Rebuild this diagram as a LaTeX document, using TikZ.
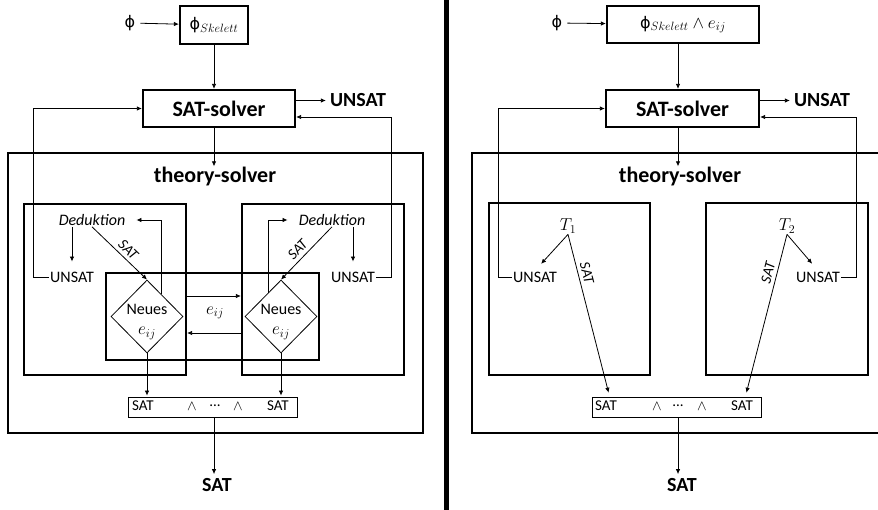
\documentclass[tikz,border=0pt]{standalone}
\usepackage{fontspec}
\setmainfont{Carlito}
\newfontfamily\phifont{DejaVu Sans}
\usepackage{tikz}
\usetikzlibrary{calc}
\usetikzlibrary{arrows.meta}
\usetikzlibrary{shapes.geometric}
\tikzset{
	solverbox/.style={draw, line width=2.2pt, inner sep=0pt},
	thinframe/.style={draw, line width=0.8pt, inner sep=0pt},
	flow/.style={line width=0.8pt, -{Latex[length=5pt,width=4.5pt]}},
	bigbold/.style={font=\fontsize{22}{26}\selectfont\bfseries, inner sep=1pt},
	result/.style={font=\fontsize{20}{24}\selectfont\bfseries, inner sep=4pt},
	normaltext/.style={font=\fontsize{16}{19}\selectfont, inner sep=1pt},
	mathtext/.style={font=\fontsize{18}{21}\selectfont, inner sep=1pt},
	deduce/.style={font=\fontsize{16}{19}\selectfont\itshape, inner sep=1pt},
	boxtext/.style={font=\fontsize{15}{18}\selectfont, inner sep=0pt},
	linelabel/.style={font=\fontsize{15}{17}\selectfont\itshape, inner sep=3.5pt},
	decision/.style={diamond, draw, line width=0.8pt, minimum width=72pt, minimum height=73pt, inner sep=0pt},
}
\begin{document}
\begin{tikzpicture}[x=1pt, y=-1pt]
	\useasboundingbox (0,0) rectangle (878,510);
	\clip (0,0) rectangle (878,510);

	%%% left: theories exchange equalities
	\node[normaltext, inner sep=5pt] (phiL) at (130,23) {\phifont ϕ};
	\node[solverbox, mathtext, inner sep=0pt, minimum width=68pt, minimum height=38pt] (skelL) at (214,25) {{\phifont\fontsize{16}{19}\selectfont ϕ}$_{Skelett}$};
	\node[solverbox, bigbold, minimum width=152pt, minimum height=37pt] (satL) at (219,108.5) {SAT-solver};
	\node[result] (unsatTopL) at (358,100.5) {UNSAT};
	\draw[flow] (phiL) -- (skelL);
	\draw[flow] (skelL.south) -- (skelL.south |- satL.north);
	\draw[flow] (satL.east |- unsatTopL) -- (unsatTopL.west);

	\node[solverbox, minimum width=415pt, minimum height=280pt] (theoL) at (215.5,293) {};
	\node[bigbold] (titleL) at (215,177) {theory-solver};
	\draw[flow] (satL.south -| skelL) -- (titleL.north -| skelL);

	\node[solverbox, minimum width=162pt, minimum height=171pt] (theoryA) at (105,289.5) {};
	\node[solverbox, minimum width=162pt, minimum height=171pt] (theoryB) at (323,289.5) {};
	\node[solverbox, minimum width=213pt, minimum height=87pt] (shared) at (212.5,316.5) {};

	\node[decision] (newA) at (147,316.5) {};
	\node[decision] (newB) at (281,316.5) {};
	\node[normaltext, align=center] (newAtext) at (147,322) {Neues\\[1pt]{\fontsize{18}{21}\selectfont$e_{ij}$}};
	\node[normaltext, align=center] (newBtext) at (281,322) {Neues\\[1pt]{\fontsize{18}{21}\selectfont$e_{ij}$}};

	\node[deduce] (dedA) at (92,220) {Deduktion};
	\node[deduce] (dedB) at (332,220) {Deduktion};
	\node[normaltext] (unsatA) at (72,277) {UNSAT};
	\node[normaltext] (unsatB) at (353,277) {UNSAT};

	\draw[flow, shorten >=9pt] (dedA.south -| unsatA) -- (unsatA.north);
	\draw[flow] (dedA.south) -- (newA.north) node[linelabel, pos=0.55, sloped, above] {SAT};
	\draw[flow] (newA.58) |- ([xshift=10pt]dedA.east);
	\draw[flow, shorten >=9pt] (dedB.south -| unsatB) -- (unsatB.north);
	\draw[flow] (dedB.south) -- (newB.north) node[linelabel, pos=0.55, sloped, above] {SAT};
	\draw[flow] (newB.119) |- ([xshift=-10pt]dedB.west);

	% e_ij goes both ways
	\draw[flow] (theoryA.east |- 0,296) -- (theoryB.west |- 0,296);
	\draw[flow] (theoryB.west |- 0,333) -- (theoryA.east |- 0,333);
	\node[mathtext] (eij) at (215,313) {$e_{ij}$};

	\node[thinframe, minimum width=169pt, minimum height=20pt] (andA) at (212.5,407) {};
	\node[boxtext] (andA1) at (143,406) {SAT};
	\node[boxtext] (andA2) at (192,406) {$\wedge$};
	\node[boxtext] (andA3) at (215,406) {...};
	\node[boxtext] (andA4) at (238,406) {$\wedge$};
	\node[boxtext] (andA5) at (278,406) {SAT};
	\draw[flow, shorten >=1pt] (newA.south) -- (newA.south |- andA.north);
	\draw[flow, shorten >=1pt] (newB.south) -- (newB.south |- andA.north);

	\node[result] (satOutL) at (217,485) {SAT};
	\draw[flow] ([xshift=1.5pt]andA.south) -- ([xshift=1.5pt]andA.south |- satOutL.north);

	% UNSAT back to the SAT-solver
	\draw[flow] (unsatA.west) -- ++(-16,0) |- (satL.west);
	\draw[flow] (unsatB.east) -- ++(15,0) |- ([yshift=-8.5pt]satL.east);

	\draw[line width=5pt] (446,0) -- (446,510);

	%%% right: equalities added to the skeleton
	\node[normaltext, inner sep=5pt] (phiR) at (557,23) {\phifont ϕ};
	\node[solverbox, mathtext, inner sep=0pt, minimum width=152pt, minimum height=37pt] (skelR) at (683,24.5) {{\phifont\fontsize{16}{19}\selectfont ϕ}$_{Skelett}\wedge e_{ij}$};
	\node[solverbox, bigbold, minimum width=153pt, minimum height=37pt] (satR) at (682.5,108.5) {SAT-solver};
	\node[result] (unsatTopR) at (822,100.5) {UNSAT};
	\draw[flow] (phiR) -- (skelR);
	\draw[flow] ([xshift=-5pt]skelR.south) -- ([xshift=-5pt]skelR.south |- satR.north);
	\draw[flow] (satR.east |- unsatTopR) -- (unsatTopR.west);

	\node[solverbox, minimum width=440pt, minimum height=280pt] (theoR) at (692,293) {};
	\node[bigbold] (titleR) at (680,177) {theory-solver};
	\draw[flow] ([xshift=-4.5pt]satR.south) -- ([xshift=-4.5pt]satR.south |- titleR.north);

	\node[solverbox, minimum width=161pt, minimum height=172pt] (theoryT1) at (569.5,289) {};
	\node[solverbox, minimum width=162pt, minimum height=172pt] (theoryT2) at (787,289) {};

	\node[mathtext] (t1) at (568,226) {$T_1$};
	\node[mathtext] (t2) at (787,226) {$T_2$};
	\node[normaltext] (unsatT1) at (535,277) {UNSAT};
	\node[normaltext] (unsatT2) at (818,277) {UNSAT};

	\node[thinframe, minimum width=169pt, minimum height=20pt] (andR) at (676.5,407) {};
	\node[boxtext] (andR1) at (606,406) {SAT};
	\node[boxtext] (andR2) at (657,406) {$\wedge$};
	\node[boxtext] (andR3) at (678,406) {...};
	\node[boxtext] (andR4) at (702,406) {$\wedge$};
	\node[boxtext] (andR5) at (742,406) {SAT};

	\draw[flow, shorten >=9pt] (t1.south) -- (unsatT1.north);
	\draw[flow, shorten >=4pt] (t1.south) -- ([xshift=18pt]andR.north west) node[linelabel, pos=0.25, sloped, above] {SAT};
	\draw[flow, shorten >=9pt] (t2.south) -- (unsatT2.north);
	\draw[flow, shorten >=4pt] (t2.south) -- ([xshift=-16pt]andR.north east) node[linelabel, pos=0.25, sloped, above] {SAT};

	\node[result] (satOutR) at (682,485) {SAT};
	\draw[flow] ([xshift=1.5pt]andR.south) -- ([xshift=1.5pt]andR.south |- satOutR.north);

	\draw[flow] (unsatT1.west) -- ++(-14,0) |- (satR.west);
	\draw[flow] (unsatT2.east) -- ++(15,0) |- ([yshift=-8.5pt]satR.east);
\end{tikzpicture}
\end{document}
